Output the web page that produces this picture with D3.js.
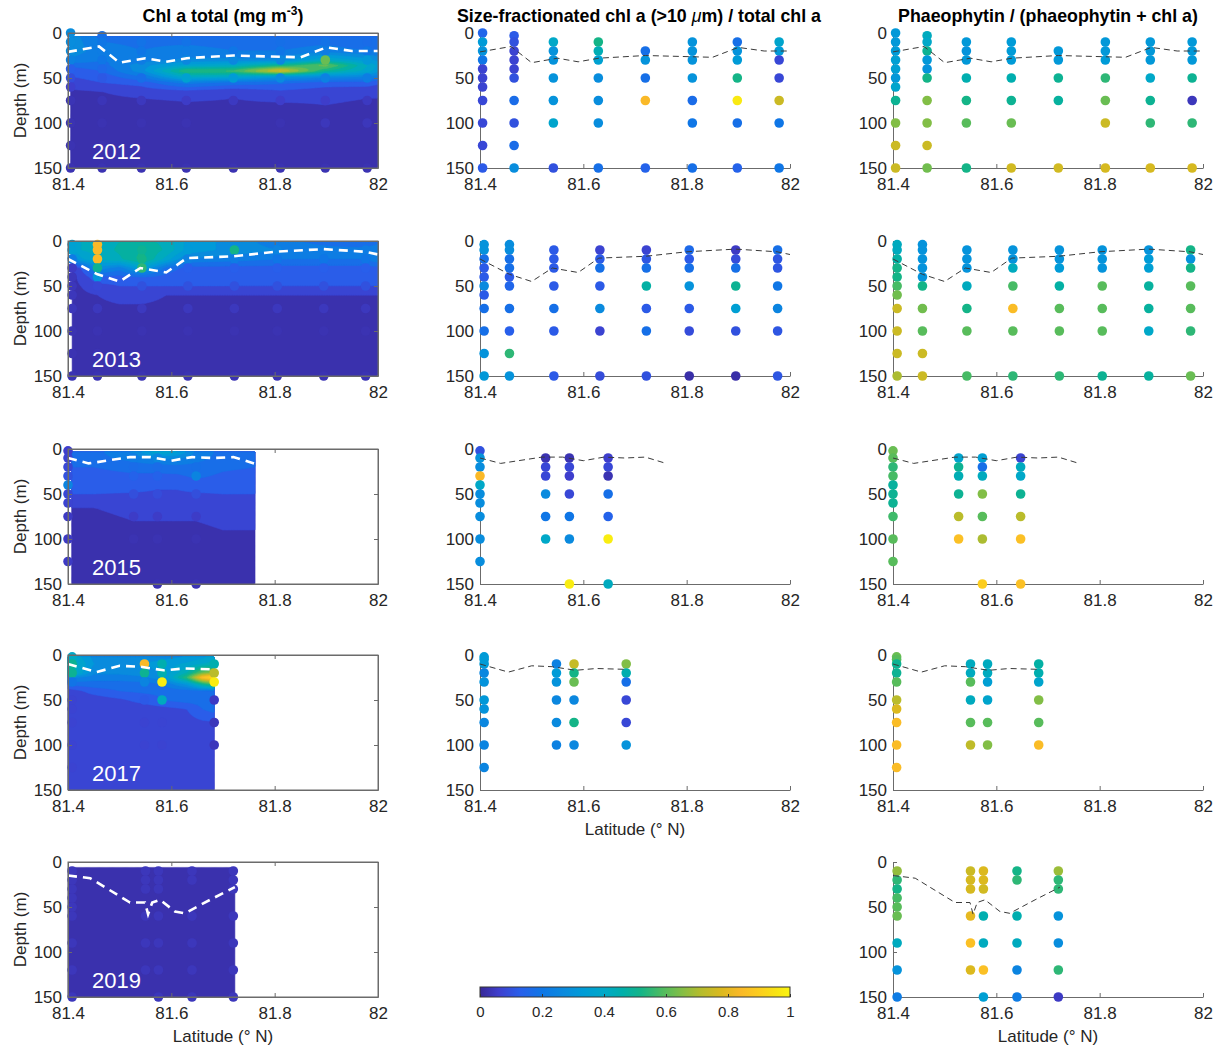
<!DOCTYPE html>
<html>
<head>
<meta charset="utf-8">
<script src="https://cdn.jsdelivr.net/npm/d3@7"></script>
<style>
  body { margin: 0; background: #fff; }
  svg text { font-family: "Liberation Sans", Arial, Helvetica, sans-serif; }
</style>
</head>
<body>
<div id="chart"></div>
<script>
// ---------- DATA ----------
const X_TICKS = [81.4, 81.6, 81.8, 82];
const Y_TICKS = [0, 50, 100, 150];
const CBAR_TICKS = [0, 0.2, 0.4, 0.6, 0.8, 1];
const YEARS = ["2012", "2013", "2015", "2017", "2019"];

// parula-like colormap
const PARULA_POS = [0, 0.06, 0.13, 0.2, 0.27, 0.33, 0.4, 0.46, 0.52, 0.59, 0.65, 0.71, 0.78, 0.84, 0.9, 0.95, 1];
const PARULA_RGB = ["#372896", "#3e3ecd", "#285feb", "#0f76e6", "#0a8ade", "#009bd7", "#00a8c8", "#00afaa",
                    "#14b487", "#50bc5f", "#82be46", "#b4bc2d", "#dcb91e", "#fab928", "#fccd1e", "#f8e114", "#faf50f"];

// chl a total sections (gridded, colour-scaled 0..1)
const chlLat2012 = [81.405, 81.466, 81.542, 81.629, 81.72, 81.811, 81.898, 81.979, 82.0];
const chlDepth2012 = [4, 10, 20, 30, 36, 42, 48, 55, 65, 80, 100, 150];
const chl2012 = [
  [0.28, 0.18, 0.18, 0.18, 0.17, 0.17, 0.17, 0.15, 0.15],
  [0.28, 0.20, 0.19, 0.19, 0.18, 0.18, 0.19, 0.17, 0.17],
  [0.28, 0.22, 0.20, 0.22, 0.20, 0.20, 0.22, 0.20, 0.20],
  [0.24, 0.20, 0.22, 0.26, 0.26, 0.26, 0.40, 0.32, 0.28],
  [0.16, 0.18, 0.28, 0.36, 0.40, 0.50, 0.62, 0.40, 0.34],
  [0.12, 0.15, 0.28, 0.55, 0.56, 0.78, 0.50, 0.38, 0.32],
  [0.10, 0.12, 0.20, 0.42, 0.40, 0.32, 0.28, 0.26, 0.22],
  [0.08, 0.10, 0.12, 0.22, 0.18, 0.16, 0.13, 0.13, 0.11],
  [0.04, 0.05, 0.07, 0.08, 0.06, 0.09, 0.07, 0.06, 0.06],
  [0.03, 0.03, 0.03, 0.04, 0.04, 0.04, 0.05, 0.04, 0.04],
  [0.03, 0.03, 0.03, 0.03, 0.03, 0.03, 0.04, 0.04, 0.04],
  [0.03, 0.03, 0.03, 0.03, 0.03, 0.03, 0.03, 0.03, 0.03]
];
const chlLat2013 = [81.408, 81.425, 81.457, 81.50, 81.543, 81.59, 81.632, 81.722, 81.805, 81.895, 81.976, 82.0];
const chlDepth2013 = [1, 10, 20, 30, 40, 50, 60, 80, 100, 150];
const chl2013 = [
  [0.36, 0.40, 0.42, 0.45, 0.46, 0.44, 0.33, 0.28, 0.22, 0.18, 0.15, 0.18],
  [0.36, 0.40, 0.42, 0.46, 0.50, 0.44, 0.33, 0.28, 0.25, 0.22, 0.22, 0.25],
  [0.22, 0.34, 0.40, 0.44, 0.52, 0.38, 0.24, 0.22, 0.20, 0.20, 0.20, 0.24],
  [0.05, 0.10, 0.28, 0.22, 0.36, 0.18, 0.13, 0.13, 0.13, 0.13, 0.13, 0.13],
  [0.04, 0.06, 0.14, 0.13, 0.15, 0.13, 0.12, 0.11, 0.11, 0.11, 0.11, 0.11],
  [0.04, 0.05, 0.08, 0.10, 0.10, 0.10, 0.10, 0.10, 0.10, 0.10, 0.10, 0.10],
  [0.04, 0.04, 0.05, 0.06, 0.06, 0.05, 0.05, 0.05, 0.05, 0.05, 0.05, 0.05],
  [0.04, 0.04, 0.04, 0.04, 0.04, 0.04, 0.04, 0.04, 0.04, 0.04, 0.04, 0.04],
  [0.03, 0.03, 0.03, 0.03, 0.03, 0.03, 0.03, 0.03, 0.03, 0.03, 0.03, 0.03],
  [0.03, 0.03, 0.03, 0.03, 0.03, 0.03, 0.03, 0.03, 0.03, 0.03, 0.03, 0.03]
];
const chlLat2015 = [81.407, 81.45, 81.527, 81.573, 81.61, 81.648, 81.70, 81.762];
const chlDepth2015 = [3, 10, 20, 30, 45, 55, 65, 80, 100, 150];
const chl2015 = [
  [0.17, 0.18, 0.26, 0.40, 0.36, 0.24, 0.18, 0.17],
  [0.17, 0.18, 0.22, 0.26, 0.26, 0.22, 0.18, 0.17],
  [0.15, 0.15, 0.17, 0.17, 0.18, 0.18, 0.16, 0.15],
  [0.13, 0.13, 0.14, 0.14, 0.14, 0.16, 0.14, 0.13],
  [0.11, 0.11, 0.11, 0.10, 0.10, 0.11, 0.11, 0.11],
  [0.09, 0.09, 0.08, 0.08, 0.08, 0.08, 0.09, 0.09],
  [0.05, 0.05, 0.06, 0.06, 0.06, 0.06, 0.07, 0.07],
  [0.04, 0.04, 0.05, 0.05, 0.05, 0.05, 0.06, 0.06],
  [0.03, 0.03, 0.03, 0.03, 0.03, 0.03, 0.04, 0.04],
  [0.03, 0.03, 0.03, 0.03, 0.03, 0.03, 0.03, 0.03]
];
const chlLat2017 = [81.40, 81.45, 81.50, 81.548, 81.582, 81.63, 81.66, 81.683];
const chlDepth2017 = [2, 10, 20, 25, 32, 40, 50, 60, 80, 150];
const chl2017 = [
  [0.42, 0.28, 0.28, 0.28, 0.28, 0.30, 0.33, 0.38],
  [0.46, 0.30, 0.30, 0.30, 0.32, 0.36, 0.40, 0.42],
  [0.46, 0.26, 0.26, 0.28, 0.30, 0.45, 0.62, 0.68],
  [0.26, 0.22, 0.22, 0.24, 0.28, 0.55, 0.86, 0.95],
  [0.17, 0.18, 0.18, 0.18, 0.20, 0.32, 0.50, 0.60],
  [0.07, 0.12, 0.15, 0.16, 0.16, 0.17, 0.18, 0.18],
  [0.07, 0.07, 0.09, 0.12, 0.15, 0.17, 0.17, 0.17],
  [0.07, 0.07, 0.07, 0.07, 0.08, 0.10, 0.15, 0.17],
  [0.07, 0.07, 0.07, 0.07, 0.07, 0.07, 0.07, 0.07],
  [0.07, 0.07, 0.07, 0.07, 0.07, 0.07, 0.07, 0.07]
];
const chlLat2019 = [81.40, 81.50, 81.60, 81.723];
const chlDepth2019 = [6, 30, 60, 100, 150];
const chl2019 = [
  [0.04, 0.04, 0.04, 0.04],
  [0.04, 0.04, 0.04, 0.04],
  [0.04, 0.04, 0.04, 0.04],
  [0.04, 0.04, 0.04, 0.04],
  [0.04, 0.04, 0.04, 0.04]
];

// bottle chl a that stands out from the section
const chlBottles2012 = [{lat: 81.898, depth: 30, value: 0.62}];
const chlBottles2013 = [
  {lat: 81.457, depth: 4, value: 0.84}, {lat: 81.457, depth: 10, value: 0.84}, {lat: 81.457, depth: 20, value: 0.84},
  {lat: 81.457, depth: 30, value: 0.5}, {lat: 81.457, depth: 40, value: 0.3},
  {lat: 81.543, depth: 30, value: 0.55}, {lat: 81.722, depth: 10, value: 0.52}
];
const chlBottles2015 = [
  {lat: 81.40, depth: 2, value: 0.06}, {lat: 81.40, depth: 10, value: 0.07}, {lat: 81.40, depth: 20, value: 0.08},
  {lat: 81.40, depth: 30, value: 0.1}, {lat: 81.40, depth: 40, value: 0.25}, {lat: 81.40, depth: 50, value: 0.08},
  {lat: 81.40, depth: 60, value: 0.07}, {lat: 81.40, depth: 75, value: 0.05}, {lat: 81.40, depth: 100, value: 0.05},
  {lat: 81.40, depth: 125, value: 0.05}, {lat: 81.648, depth: 30, value: 0.25}
];
const chlBottles2017 = [
  {lat: 81.408, depth: 10, value: 0.5}, {lat: 81.408, depth: 20, value: 0.5},
  {lat: 81.548, depth: 10, value: 0.84}, {lat: 81.548, depth: 20, value: 0.5}, {lat: 81.548, depth: 30, value: 0.25},
  {lat: 81.582, depth: 10, value: 0.45}, {lat: 81.582, depth: 20, value: 0.45}, {lat: 81.582, depth: 30, value: 0.98},
  {lat: 81.582, depth: 50, value: 0.42}, {lat: 81.683, depth: 10, value: 0.45}, {lat: 81.683, depth: 20, value: 0.72},
  {lat: 81.683, depth: 30, value: 0.98}, {lat: 81.683, depth: 50, value: 0.05}, {lat: 81.683, depth: 75, value: 0.04},
  {lat: 81.683, depth: 100, value: 0.04}
];
const chlBottles2019 = [];

// size-fractionated chl a (>10 um) / total chl a
const sizeFrac2012 = [
  {lat: 81.405, depth: [0, 10, 20, 30, 40, 50, 60, 75, 100, 125, 150], value: [0.15, 0.33, 0.3, 0.2, 0.07, 0.07, 0.07, 0.08, 0.08, 0.08, 0.12]},
  {lat: 81.466, depth: [3, 10, 20, 30, 40, 50, 75, 100, 125, 150], value: [0.12, 0.1, 0.07, 0.07, 0.07, 0.1, 0.17, 0.1, 0.17, 0.28]},
  {lat: 81.542, depth: [10, 20, 30, 50, 75, 100, 150], value: [0.4, 0.3, 0.3, 0.3, 0.3, 0.38, 0.1]},
  {lat: 81.629, depth: [10, 20, 30, 50, 75, 100, 150], value: [0.52, 0.44, 0.36, 0.28, 0.28, 0.28, 0.18]},
  {lat: 81.72, depth: [20, 30, 50, 75, 150], value: [0.18, 0.3, 0.18, 0.84, 0.14]},
  {lat: 81.811, depth: [10, 20, 30, 50, 75, 100, 150], value: [0.3, 0.3, 0.3, 0.3, 0.17, 0.2, 0.18]},
  {lat: 81.898, depth: [10, 20, 30, 50, 75, 100, 150], value: [0.18, 0.3, 0.33, 0.52, 0.97, 0.18, 0.14]},
  {lat: 81.979, depth: [10, 20, 30, 50, 75, 100, 150], value: [0.38, 0.33, 0.08, 0.08, 0.75, 0.2, 0.2]}
];
const sizeFrac2013 = [
  {lat: 81.408, depth: [4, 10, 20, 30, 40, 50, 60, 75, 100, 125, 150], value: [0.3, 0.3, 0.18, 0.12, 0.12, 0.27, 0.12, 0.18, 0.18, 0.3, 0.32]},
  {lat: 81.457, depth: [4, 10, 20, 30, 40, 50, 75, 100, 125, 150], value: [0.28, 0.28, 0.18, 0.18, 0.12, 0.15, 0.18, 0.13, 0.55, 0.3]},
  {lat: 81.543, depth: [10, 20, 30, 50, 75, 100, 150], value: [0.12, 0.12, 0.12, 0.12, 0.18, 0.12, 0.12]},
  {lat: 81.632, depth: [10, 20, 30, 50, 75, 100, 150], value: [0.07, 0.12, 0.18, 0.12, 0.27, 0.07, 0.09]},
  {lat: 81.722, depth: [10, 20, 30, 50, 75, 100, 150], value: [0.07, 0.11, 0.18, 0.47, 0.12, 0.18, 0.1]},
  {lat: 81.805, depth: [10, 20, 30, 50, 75, 100, 150], value: [0.16, 0.12, 0.18, 0.3, 0.12, 0.09, 0.02]},
  {lat: 81.895, depth: [10, 20, 30, 50, 75, 100, 150], value: [0.05, 0.09, 0.18, 0.5, 0.35, 0.1, 0.02]},
  {lat: 81.976, depth: [10, 20, 30, 50, 75, 100, 150], value: [0.18, 0.11, 0.11, 0.2, 0.25, 0.11, 0.11]}
];
const sizeFrac2015 = [
  {lat: 81.40, depth: [2, 10, 20, 30, 40, 50, 60, 75, 100, 125], value: [0.1, 0.3, 0.28, 0.84, 0.4, 0.28, 0.28, 0.28, 0.28, 0.28]},
  {lat: 81.527, depth: [10, 20, 30, 50, 75, 100], value: [0.03, 0.08, 0.08, 0.27, 0.2, 0.4]},
  {lat: 81.573, depth: [10, 20, 30, 50, 75, 100, 150], value: [0.03, 0.08, 0.06, 0.08, 0.2, 0.27, 0.98]},
  {lat: 81.648, depth: [10, 20, 30, 50, 75, 100, 150], value: [0.06, 0.08, 0.03, 0.18, 0.14, 0.98, 0.42]}
];
const sizeFrac2017 = [
  {lat: 81.408, depth: [2, 5, 10, 20, 30, 50, 60, 75, 100, 125], value: [0.33, 0.33, 0.33, 0.26, 0.3, 0.32, 0.3, 0.26, 0.25, 0.25]},
  {lat: 81.548, depth: [10, 20, 30, 50, 75, 100], value: [0.24, 0.33, 0.3, 0.26, 0.27, 0.24]},
  {lat: 81.582, depth: [10, 20, 30, 50, 75, 100], value: [0.74, 0.52, 0.62, 0.26, 0.52, 0.26]},
  {lat: 81.683, depth: [10, 20, 30, 50, 75, 100], value: [0.65, 0.45, 0.18, 0.08, 0.08, 0.3]}
];

// phaeophytin / (phaeophytin + chl a)
const phaeo2012 = [
  {lat: 81.405, depth: [0, 10, 20, 30, 40, 50, 60, 75, 100, 125, 150], value: [0.32, 0.32, 0.33, 0.35, 0.35, 0.32, 0.38, 0.5, 0.65, 0.75, 0.75]},
  {lat: 81.466, depth: [3, 10, 20, 30, 40, 50, 75, 100, 125, 150], value: [0.42, 0.4, 0.5, 0.32, 0.3, 0.52, 0.65, 0.65, 0.75, 0.63]},
  {lat: 81.542, depth: [10, 20, 30, 50, 75, 100, 150], value: [0.32, 0.3, 0.32, 0.45, 0.52, 0.6, 0.52]},
  {lat: 81.629, depth: [10, 20, 30, 50, 75, 100, 150], value: [0.33, 0.33, 0.33, 0.45, 0.5, 0.62, 0.76]},
  {lat: 81.72, depth: [20, 30, 50, 75, 150], value: [0.32, 0.32, 0.5, 0.48, 0.76]},
  {lat: 81.811, depth: [10, 20, 30, 50, 75, 100, 150], value: [0.32, 0.32, 0.33, 0.55, 0.62, 0.75, 0.77]},
  {lat: 81.898, depth: [10, 20, 30, 50, 75, 100, 150], value: [0.32, 0.32, 0.32, 0.4, 0.5, 0.55, 0.77]},
  {lat: 81.979, depth: [10, 20, 30, 50, 75, 100, 150], value: [0.32, 0.32, 0.32, 0.5, 0.04, 0.55, 0.77]}
];
const phaeo2013 = [
  {lat: 81.408, depth: [4, 10, 20, 30, 40, 50, 60, 75, 100, 125, 150], value: [0.42, 0.42, 0.47, 0.52, 0.52, 0.58, 0.63, 0.75, 0.75, 0.75, 0.7]},
  {lat: 81.457, depth: [4, 10, 20, 30, 40, 50, 75, 100, 125, 150], value: [0.3, 0.3, 0.3, 0.3, 0.3, 0.52, 0.63, 0.6, 0.75, 0.75]},
  {lat: 81.543, depth: [10, 20, 30, 50, 75, 100, 150], value: [0.3, 0.3, 0.3, 0.42, 0.52, 0.6, 0.58]},
  {lat: 81.632, depth: [10, 20, 30, 50, 75, 100, 150], value: [0.3, 0.3, 0.42, 0.58, 0.85, 0.6, 0.55]},
  {lat: 81.722, depth: [10, 20, 30, 50, 75, 100, 150], value: [0.3, 0.3, 0.33, 0.47, 0.6, 0.6, 0.55]},
  {lat: 81.805, depth: [10, 20, 30, 50, 75, 100, 150], value: [0.3, 0.3, 0.3, 0.6, 0.6, 0.6, 0.5]},
  {lat: 81.895, depth: [10, 20, 30, 50, 75, 100, 150], value: [0.3, 0.33, 0.35, 0.48, 0.48, 0.4, 0.48]},
  {lat: 81.976, depth: [10, 20, 30, 50, 75, 100, 150], value: [0.52, 0.3, 0.52, 0.6, 0.6, 0.55, 0.62]}
];
const phaeo2015 = [
  {lat: 81.40, depth: [2, 10, 20, 30, 40, 50, 60, 75, 100, 125], value: [0.62, 0.6, 0.55, 0.58, 0.48, 0.5, 0.5, 0.57, 0.6, 0.6]},
  {lat: 81.527, depth: [10, 20, 30, 50, 75, 100], value: [0.38, 0.5, 0.44, 0.5, 0.72, 0.86]},
  {lat: 81.573, depth: [10, 20, 30, 50, 75, 100, 150], value: [0.35, 0.18, 0.42, 0.65, 0.6, 0.7, 0.9]},
  {lat: 81.647, depth: [10, 20, 30, 50, 75, 100, 150], value: [0.07, 0.42, 0.4, 0.5, 0.72, 0.86, 0.86]}
];
const phaeo2017 = [
  {lat: 81.407, depth: [2, 5, 10, 20, 30, 50, 60, 75, 100, 125], value: [0.62, 0.6, 0.5, 0.5, 0.6, 0.72, 0.78, 0.85, 0.85, 0.85]},
  {lat: 81.55, depth: [10, 20, 30, 50, 75, 100], value: [0.42, 0.42, 0.6, 0.42, 0.6, 0.73]},
  {lat: 81.583, depth: [10, 20, 30, 50, 75, 100], value: [0.42, 0.42, 0.35, 0.38, 0.6, 0.65]},
  {lat: 81.682, depth: [10, 20, 30, 50, 75, 100], value: [0.47, 0.45, 0.38, 0.65, 0.6, 0.85]}
];
const phaeo2019 = [
  {lat: 81.408, depth: [10, 20, 30, 40, 50, 60, 90, 120, 150], value: [0.67, 0.55, 0.52, 0.58, 0.6, 0.62, 0.42, 0.3, 0.22]},
  {lat: 81.55, depth: [10, 20, 30, 60, 90, 120], value: [0.75, 0.77, 0.77, 0.8, 0.86, 0.78]},
  {lat: 81.575, depth: [10, 20, 30, 60, 90, 120, 150], value: [0.78, 0.78, 0.76, 0.45, 0.42, 0.86, 0.35]},
  {lat: 81.64, depth: [10, 20, 60, 90, 120, 150], value: [0.52, 0.55, 0.45, 0.42, 0.25, 0.22]},
  {lat: 81.72, depth: [10, 20, 30, 60, 90, 120, 150], value: [0.68, 0.55, 0.55, 0.3, 0.28, 0.55, 0.05]}
];

// mixed layer depth lines
const mldLat2012 = [81.40, 81.46, 81.50, 81.55, 81.59, 81.63, 81.72, 81.85, 81.90, 81.95, 82.0];
const mldDepth2012 = [21, 15, 33, 28, 32, 28, 25, 27, 16, 20, 20];
const mldLat2013 = [81.40, 81.457, 81.50, 81.54, 81.59, 81.63, 81.72, 81.80, 81.895, 81.975, 82.0];
const mldDepth2013 = [20, 37, 45, 30, 35, 19, 17, 12, 9, 12, 15];
const mldLat2015 = [81.40, 81.44, 81.52, 81.56, 81.60, 81.64, 81.68, 81.72, 81.76];
const mldDepth2015 = [10, 16, 9, 9, 13, 9, 10, 9, 16];
const mldLat2017 = [81.40, 81.455, 81.50, 81.54, 81.585, 81.625, 81.685];
const mldDepth2017 = [10, 19, 12, 13, 17, 15, 16];
const mldLat2019 = [81.40, 81.443, 81.52, 81.549, 81.555, 81.563, 81.578, 81.607, 81.626, 81.675, 81.723];
const mldDepth2019 = [15, 18, 45, 45, 58, 45, 42, 55, 57, 42, 28];

// ---------- LAYOUT ----------
const WIDTH = 1220, HEIGHT = 1046;
const COL_X = [68, 480, 893];
const ROW_Y = [33, 241, 449, 655, 862];
const PLOT_W = 310, PLOT_H = 135;
const AXIS_COLOR = "#6b6b6b";
const TEXT_COLOR = "#262626";
const FONT_SIZE = 17;
const TITLE_SIZE = 17.8;
const DOT_R = 4.8;
const CHL_LEVELS = d3.range(0, 1, 0.05);

const parula = d3.scaleLinear().domain(PARULA_POS).range(PARULA_RGB).clamp(true);

const svg = d3.select("#chart").append("svg")
    .attr("width", WIDTH)
    .attr("height", HEIGHT);

// interpolate the gridded section at (lat, depth)
function sampleGrid(grid, la, d) {
    const nl = grid.lat.length, nd = grid.depth.length;
    const i = Math.max(0, Math.min(nl - 2, d3.bisectRight(grid.lat, la) - 1));
    const j = Math.max(0, Math.min(nd - 2, d3.bisectRight(grid.depth, d) - 1));
    const tx = Math.max(0, Math.min(1, (la - grid.lat[i]) / (grid.lat[i + 1] - grid.lat[i])));
    const ty = Math.max(0, Math.min(1, (d - grid.depth[j]) / (grid.depth[j + 1] - grid.depth[j])));
    const v = grid.value;
    return (1 - ty) * ((1 - tx) * v[j][i] + tx * v[j][i + 1]) +
           ty * ((1 - tx) * v[j + 1][i] + tx * v[j + 1][i + 1]);
}

// filled contours like matlab contourf
function drawContour(g, x, y, grid) {
    const NX = 180, NY = 120;
    const lat0 = grid.lat[0], lat1 = grid.lat[grid.lat.length - 1];
    const d0 = grid.depth[0], d1 = grid.depth[grid.depth.length - 1];
    const vals = new Float64Array(NX * NY);
    for (let j = 0; j < NY; j++) {
        const d = d0 + (d1 - d0) * (j + 0.5) / NY;
        for (let i = 0; i < NX; i++) {
            const la = lat0 + (lat1 - lat0) * (i + 0.5) / NX;
            vals[j * NX + i] = sampleGrid(grid, la, d);
        }
    }
    const bands = d3.contours().size([NX, NY]).thresholds(CHL_LEVELS)(vals);
    const proj = d3.geoTransform({
        point: function(px, py) {
            this.stream.point(x(lat0 + (lat1 - lat0) * px / NX), y(d0 + (d1 - d0) * py / NY));
        }
    });
    g.append("g").selectAll("path")
        .data(bands)
        .join("path")
            .attr("d", d3.geoPath(proj))
            .attr("fill", (c) => parula(c.value + 0.025))
            .attr("stroke", (c) => parula(c.value + 0.025))
            .attr("stroke-width", 0.6);
}

// flatten station lists into points
function flatten(samples) {
    const pts = [];
    samples.forEach((s) => {
        s.depth.forEach((d, k) => pts.push({lat: s.lat, depth: d, value: s.value[k]}));
    });
    return pts;
}

function styleAxis(sel) {
    sel.selectAll(".domain").attr("stroke", AXIS_COLOR);
    sel.selectAll(".tick line").attr("stroke", AXIS_COLOR);
    sel.selectAll(".tick text")
        .attr("fill", TEXT_COLOR)
        .attr("font-size", FONT_SIZE)
        .attr("font-family", "Liberation Sans, Arial, sans-serif");
}

function drawAxes(g, x, y, box) {
    const bottom = g.append("g")
        .attr("transform", "translate(0," + PLOT_H + ")")
        .call(d3.axisBottom(x).tickValues(X_TICKS).tickFormat(d3.format("")).tickSize(-4).tickSizeOuter(0).tickPadding(10));
    const left = g.append("g")
        .call(d3.axisLeft(y).tickValues(Y_TICKS).tickSize(-4).tickSizeOuter(0).tickPadding(6));
    styleAxis(bottom);
    styleAxis(left);
    if (box) {
        const top = g.append("g")
            .call(d3.axisTop(x).tickValues(X_TICKS).tickFormat("").tickSize(-4).tickSizeOuter(0));
        const right = g.append("g")
            .attr("transform", "translate(" + PLOT_W + ",0)")
            .call(d3.axisRight(y).tickValues(Y_TICKS).tickFormat("").tickSize(-4).tickSizeOuter(0));
        styleAxis(top);
        styleAxis(right);
    }
}

function drawMld(g, x, y, lats, depths, color, width, dash) {
    const pts = lats.map((la, i) => [la, depths[i]]);
    g.append("path")
        .datum(pts)
        .attr("d", d3.line().x((p) => x(p[0])).y((p) => y(p[1])))
        .attr("fill", "none")
        .attr("stroke", color)
        .attr("stroke-width", width)
        .attr("stroke-dasharray", dash);
}

function panelFrame(col, row) {
    const g = svg.append("g").attr("transform", "translate(" + COL_X[col] + "," + ROW_Y[row] + ")");
    const x = d3.scaleLinear().domain([81.4, 82]).range([0, PLOT_W]);
    const y = d3.scaleLinear().domain([0, 150]).range([0, PLOT_H]);
    return {g, x, y};
}

// left column: chl a total section
function chlPanel(row, grid, bottles, samples, mldLat, mldDepth, year) {
    const {g, x, y} = panelFrame(0, row);
    drawContour(g, x, y, grid);

    const pts = flatten(samples).map((p) => {
        const b = bottles.find((q) => Math.abs(q.lat - p.lat) < 0.003 && q.depth === p.depth);
        return {lat: p.lat, depth: p.depth, value: b ? b.value : sampleGrid(grid, p.lat, p.depth)};
    });
    g.append("g").selectAll("circle")
        .data(pts)
        .join("circle")
            .attr("cx", (d) => x(d.lat))
            .attr("cy", (d) => y(d.depth))
            .attr("r", DOT_R)
            .attr("fill", (d) => parula(d.value));

    drawMld(g, x, y, mldLat, mldDepth, "#ffffff", 2.6, "9,6");

    g.append("rect")
        .attr("width", PLOT_W).attr("height", PLOT_H)
        .attr("fill", "none").attr("stroke", AXIS_COLOR).attr("stroke-width", 1);
    drawAxes(g, x, y, true);

    g.append("text")
        .attr("x", 24).attr("y", 126)
        .attr("fill", "#ffffff")
        .attr("font-size", 22)
        .text(year);

    svg.append("text")
        .attr("transform", "translate(20," + (ROW_Y[row] + PLOT_H / 2) + ") rotate(-90)")
        .attr("text-anchor", "middle")
        .attr("dy", "0.35em")
        .attr("fill", TEXT_COLOR)
        .attr("font-size", FONT_SIZE)
        .text("Depth (m)");
}

// middle and right columns: ratio scatter
function ratioPanel(col, row, samples, mldLat, mldDepth) {
    const {g, x, y} = panelFrame(col, row);
    drawAxes(g, x, y, false);
    g.append("g").selectAll("circle")
        .data(flatten(samples))
        .join("circle")
            .attr("cx", (d) => x(d.lat))
            .attr("cy", (d) => y(d.depth))
            .attr("r", DOT_R)
            .attr("fill", (d) => parula(d.value));
    drawMld(g, x, y, mldLat, mldDepth, "#3a3a3a", 1, "6,4");
}

// ---------- BUILD ----------
const grids = [
    {lat: chlLat2012, depth: chlDepth2012, value: chl2012},
    {lat: chlLat2013, depth: chlDepth2013, value: chl2013},
    {lat: chlLat2015, depth: chlDepth2015, value: chl2015},
    {lat: chlLat2017, depth: chlDepth2017, value: chl2017},
    {lat: chlLat2019, depth: chlDepth2019, value: chl2019}
];
const bottleSets = [chlBottles2012, chlBottles2013, chlBottles2015, chlBottles2017, chlBottles2019];
const sizeSets = [sizeFrac2012, sizeFrac2013, sizeFrac2015, sizeFrac2017];
const phaeoSets = [phaeo2012, phaeo2013, phaeo2015, phaeo2017, phaeo2019];
const mldLats = [mldLat2012, mldLat2013, mldLat2015, mldLat2017, mldLat2019];
const mldDepths = [mldDepth2012, mldDepth2013, mldDepth2015, mldDepth2017, mldDepth2019];

YEARS.forEach((yr, r) => {
    const stations = r < 4 ? sizeSets[r] : phaeoSets[r];
    chlPanel(r, grids[r], bottleSets[r], stations, mldLats[r], mldDepths[r], yr);
    if (r < 4) ratioPanel(1, r, sizeSets[r], mldLats[r], mldDepths[r]);
    ratioPanel(2, r, phaeoSets[r], mldLats[r], mldDepths[r]);
});

// column titles
const TITLE_Y = 22;
const chlTitle = svg.append("text")
    .attr("x", COL_X[0] + PLOT_W / 2).attr("y", TITLE_Y)
    .attr("text-anchor", "middle")
    .attr("font-size", TITLE_SIZE).attr("font-weight", "bold")
    .attr("fill", "#000");
chlTitle.append("tspan").text("Chl a total (mg m");
chlTitle.append("tspan").attr("dy", -7).attr("font-size", 12).text("-3");
chlTitle.append("tspan").attr("dy", 7).text(")");

const sizeTitle = svg.append("text")
    .attr("x", COL_X[1] + PLOT_W / 2 + 4).attr("y", TITLE_Y)
    .attr("text-anchor", "middle")
    .attr("font-size", TITLE_SIZE).attr("font-weight", "bold")
    .attr("fill", "#000");
sizeTitle.append("tspan").text("Size-fractionated chl a (>10 ");
sizeTitle.append("tspan").attr("font-weight", "normal").attr("font-style", "italic").text("\u03bc");
sizeTitle.append("tspan").text("m) / total chl a");

svg.append("text")
    .attr("x", COL_X[2] + PLOT_W / 2).attr("y", TITLE_Y)
    .attr("text-anchor", "middle")
    .attr("font-size", TITLE_SIZE).attr("font-weight", "bold")
    .attr("fill", "#000")
    .text("Phaeophytin / (phaeophytin + chl a)");

// x labels
[[1, 3], [0, 4], [2, 4]].forEach(([c, r]) => {
    svg.append("text")
        .attr("x", COL_X[c] + PLOT_W / 2)
        .attr("y", ROW_Y[r] + PLOT_H + 45)
        .attr("text-anchor", "middle")
        .attr("fill", TEXT_COLOR)
        .attr("font-size", FONT_SIZE)
        .text("Latitude (\u00b0 N)");
});

// colorbar
const CBAR_Y = 987, CBAR_H = 10;
const cbX = d3.scaleLinear().domain([0, 1]).range([COL_X[1], COL_X[1] + PLOT_W]);
const grad = svg.append("defs").append("linearGradient").attr("id", "parulaGrad");
grad.selectAll("stop")
    .data(PARULA_POS)
    .join("stop")
        .attr("offset", (d) => (d * 100) + "%")
        .attr("stop-color", (d, i) => PARULA_RGB[i]);
svg.append("rect")
    .attr("x", cbX(0)).attr("y", CBAR_Y)
    .attr("width", cbX(1) - cbX(0)).attr("height", CBAR_H)
    .attr("fill", "url(#parulaGrad)")
    .attr("stroke", "#333").attr("stroke-width", 1);
const cbAxis = svg.append("g")
    .attr("transform", "translate(0," + (CBAR_Y + CBAR_H) + ")")
    .call(d3.axisBottom(cbX).tickValues(CBAR_TICKS).tickFormat(d3.format("")).tickSize(-3).tickSizeOuter(0).tickPadding(9));
cbAxis.select(".domain").remove();
cbAxis.selectAll(".tick line").attr("stroke", "#333");
cbAxis.selectAll(".tick text").attr("fill", TEXT_COLOR).attr("font-size", 15);
</script>
</body>
</html>
